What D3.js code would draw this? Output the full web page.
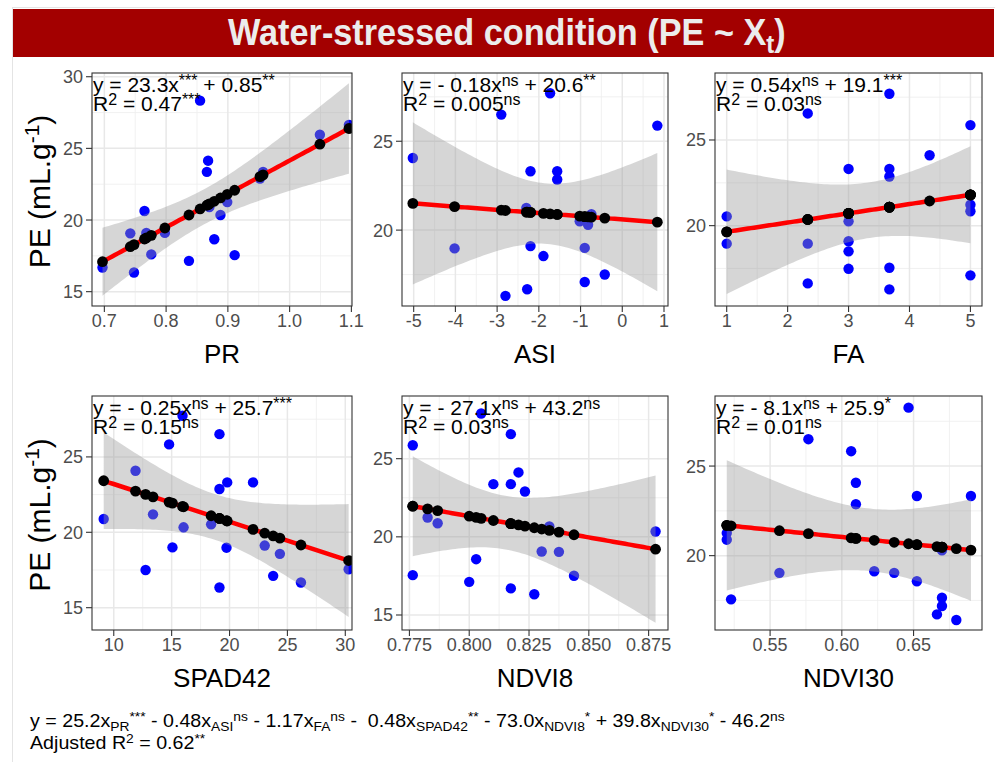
<!DOCTYPE html>
<html>
<head>
<meta charset="utf-8">
<script src="https://cdn.jsdelivr.net/npm/d3@7"></script>
<style>
  body { margin: 0; background: #fff; }
  svg { display: block; }
  text { font-family: "Liberation Sans", Arial, sans-serif; white-space: pre; }
</style>
</head>
<body>
<svg id="chart" width="995" height="762"></svg>
<script>
// values, one pair of arrays per panel
const xNames = ["PR", "ASI", "FA", "SPAD42", "NDVI8", "NDVI30"];

const prX  = [0.697, 0.742, 0.748, 0.765, 0.768, 0.776, 0.798, 0.837, 0.855, 0.866, 0.868, 0.870, 0.878, 0.888, 0.899, 0.911, 0.952, 0.957, 1.049, 1.096];
const prPE = [16.69, 19.07, 16.34, 20.63, 19.10, 17.60, 19.10, 17.15, 28.33, 23.36, 24.14, 20.90, 18.66, 20.35, 21.25, 17.55, 22.90, 23.35, 25.95, 26.64];

const asiX  = [-5.02, -4.02, -2.90, -2.80, -2.30, -2.28, -2.20, -2.20, -1.89, -1.73, -1.56, -1.56, -1.02, -0.90, -0.90, -0.82, -0.74, -0.42, 0.84];
const asiPE = [24.06, 18.97, 26.50, 16.30, 21.25, 16.67, 23.31, 19.10, 18.54, 27.70, 23.31, 22.85, 20.50, 19.00, 17.08, 20.30, 20.90, 17.50, 25.88];

const faX  = [1, 1, 2.33, 2.33, 2.33, 3, 3, 3, 3, 3, 3.67, 3.67, 3.67, 3.67, 3.67, 4.33, 5, 5, 5, 5];
const faPE = [20.54, 18.95, 26.55, 18.95, 16.63, 23.31, 20.25, 19.09, 18.50, 17.48, 27.70, 23.31, 22.87, 17.54, 16.28, 24.11, 25.87, 21.22, 20.84, 17.10];

const spadX  = [9.13, 11.88, 12.75, 13.39, 14.78, 15.07, 15.94, 16.03, 18.41, 19.13, 19.13, 19.13, 19.80, 19.74, 22.03, 23.04, 23.77, 24.35, 26.17, 30.29];
const spadPE = [20.88, 24.08, 17.50, 21.19, 25.83, 19.00, 27.73, 20.33, 20.53, 26.51, 22.87, 16.34, 23.31, 18.98, 23.31, 19.12, 17.11, 18.57, 16.67, 17.55];

const ndvi8X  = [0.7764, 0.7764, 0.7826, 0.7868, 0.8000, 0.8029, 0.8050, 0.8101, 0.8174, 0.8174, 0.8174, 0.8206, 0.8233, 0.8272, 0.8303, 0.8335, 0.8375, 0.8438, 0.8779];
const ndvi8PE = [25.86, 17.55, 21.24, 20.87, 17.12, 18.57, 27.89, 23.37, 26.57, 23.37, 16.70, 24.12, 22.90, 16.33, 19.06, 20.66, 19.04, 17.51, 20.34];

const ndvi30X  = [0.5198, 0.5198, 0.5228, 0.5565, 0.5767, 0.6065, 0.6098, 0.6098, 0.6226, 0.6365, 0.6465, 0.6523, 0.6523, 0.6663, 0.6698, 0.6698, 0.6698, 0.6798, 0.6900];
const ndvi30PE = [21.26, 20.89, 17.56, 19.04, 26.50, 25.83, 24.07, 22.87, 19.13, 19.04, 28.26, 23.33, 18.57, 16.72, 17.65, 17.19, 20.30, 16.41, 23.33];

const xValues  = [prX, asiX, faX, spadX, ndvi8X, ndvi30X];
const peValues = [prPE, asiPE, faPE, spadPE, ndvi8PE, ndvi30PE];

// fitted lines as drawn
const slopes     = [23.3, -0.18, 0.54, -0.25, -27.1, -8.1];
const intercepts = [0.85, 20.6, 19.1, 25.7, 43.0, 25.9];

// axis limits and ticks
const xLimits = [[0.680, 1.101], [-5.28, 1.096], [0.808, 5.19], [8.12, 30.58], [0.7719, 0.8831], [0.5116, 0.6977]];
const yLimits = [[14.0, 30.26], [15.73, 28.84], [15.31, 28.91], [13.52, 29.04], [14.04, 29.01], [15.85, 28.91]];
const xTicks = [[0.7, 0.8, 0.9, 1.0, 1.1], [-5, -4, -3, -2, -1, 0, 1], [1, 2, 3, 4, 5], [10, 15, 20, 25, 30], [0.775, 0.8, 0.825, 0.85, 0.875], [0.55, 0.6, 0.65]];
const xTickLabels = [["0.7", "0.8", "0.9", "1.0", "1.1"], ["-5", "-4", "-3", "-2", "-1", "0", "1"], ["1", "2", "3", "4", "5"], ["10", "15", "20", "25", "30"], ["0.775", "0.800", "0.825", "0.850", "0.875"], ["0.55", "0.60", "0.65"]];
const yTicks = [[15, 20, 25, 30], [20, 25], [20, 25], [15, 20, 25], [15, 20, 25], [20, 25]];

// labels: [text, sup, text, sup]
const eqLabels = [
  ["y = 23.3x", "***", " + 0.85", "**"],
  ["y = - 0.18x", "ns", " + 20.6", "**"],
  ["y = 0.54x", "ns", " + 19.1", "***"],
  ["y = - 0.25x", "ns", " + 25.7", "***"],
  ["y = - 27.1x", "ns", " + 43.2", "ns"],
  ["y = - 8.1x", "ns", " + 25.9", "*"]
];
const r2Labels = [["0.47", "***"], ["0.005", "ns"], ["0.03", "ns"], ["0.15", "ns"], ["0.03", "ns"], ["0.01", "ns"]];

const titleParts = [["n", "Water-stressed condition (PE ~ X"], ["sub", "t"], ["n", ")"]];
const modelParts = [
  ["n", "y = 25.2x"], ["sub", "PR"], ["sup", "***"],
  ["n", " - 0.48x"], ["sub", "ASI"], ["sup", "ns"],
  ["n", " - 1.17x"], ["sub", "FA"], ["sup", "ns"],
  ["n", " -  0.48x"], ["sub", "SPAD42"], ["sup", "**"],
  ["n", " - 73.0x"], ["sub", "NDVI8"], ["sup", "*"],
  ["n", " + 39.8x"], ["sub", "NDVI30"], ["sup", "*"],
  ["n", " - 46.2"], ["sup", "ns"]
];
const adjParts = [["n", "Adjusted R"], ["sup", "2"], ["n", " = 0.62"], ["sup", "**"]];

// layout
const cols = [[92, 352], [402, 668], [715, 982]];
const rows = [[73, 306], [396, 630]];

const svg = d3.select("#chart");

// writes parts into a text element, raising / lowering sup and sub
function richText(sel, parts, size, small, rise, drop) {
  let cur = 0;
  parts.forEach(([k, t]) => {
    const target = k === "sup" ? -rise : (k === "sub" ? drop : 0);
    sel.append("tspan")
      .attr("dy", target - cur)
      .attr("font-size", k === "n" ? size : small)
      .text(t);
    cur = target;
  });
}

// two sided 97.5% t quantile (Cornish-Fisher)
function tQuant(df) {
  const z = 1.959964;
  return z + (z ** 3 + z) / (4 * df) + (5 * z ** 5 + 16 * z ** 3 + 3 * z) / (96 * df * df);
}

// frame
svg.append("rect").attr("x", 12.5).attr("y", 7.5).attr("width", 990).attr("height", 760)
  .attr("fill", "none").attr("stroke", "#e4e4e4");

// title bar
svg.append("rect").attr("x", 13).attr("y", 9).attr("width", 981).attr("height", 48).attr("fill", "#a30000");
const titleG = svg.append("g");
const title = titleG.append("text").attr("x", 0).attr("y", 0).attr("fill", "#ececec").attr("font-weight", "bold");
richText(title, titleParts, 37, 26, 0, 8);
const tw = title.node().getComputedTextLength();
titleG.attr("transform", `translate(${507 - 558 / 2},45) scale(${558 / tw},1)`);

xNames.forEach((name, i) => {
  const [x0, x1] = cols[i % 3];
  const [y0, y1] = rows[Math.floor(i / 3)];
  const xs = xValues[i], ys = peValues[i];

  const x = d3.scaleLinear().domain(xLimits[i]).range([x0, x1]);
  const y = d3.scaleLinear().domain(yLimits[i]).range([y1, y0]);

  const g = svg.append("g");
  g.append("clipPath").attr("id", "clip" + i)
    .append("rect").attr("x", x0).attr("y", y0).attr("width", x1 - x0).attr("height", y1 - y0);

  // grid: minor lines halfway between major ticks
  const xt = xTicks[i], yt = yTicks[i];
  const xStep = xt[1] - xt[0];
  const yStep = yt.length > 1 ? yt[1] - yt[0] : 5;
  const xMinor = d3.range(xt[0] - xStep / 2, xLimits[i][1], xStep).filter(v => v > xLimits[i][0]);
  const yMinor = d3.range(yt[0] - yStep * 1.5, yLimits[i][1], yStep).filter(v => v > yLimits[i][0]);

  const grid = g.append("g");
  grid.selectAll(".xm").data(xMinor).join("line")
    .attr("x1", d => x(d)).attr("x2", d => x(d)).attr("y1", y0).attr("y2", y1)
    .attr("stroke", "#eeeeee").attr("stroke-width", 0.8);
  grid.selectAll(".ym").data(yMinor).join("line")
    .attr("y1", d => y(d)).attr("y2", d => y(d)).attr("x1", x0).attr("x2", x1)
    .attr("stroke", "#eeeeee").attr("stroke-width", 0.8);
  grid.selectAll(".xM").data(xt).join("line")
    .attr("x1", d => x(d)).attr("x2", d => x(d)).attr("y1", y0).attr("y2", y1)
    .attr("stroke", "#e8e8e8").attr("stroke-width", 1.5);
  grid.selectAll(".yM").data(yt).join("line")
    .attr("y1", d => y(d)).attr("y2", d => y(d)).attr("x1", x0).attr("x2", x1)
    .attr("stroke", "#e8e8e8").attr("stroke-width", 1.5);

  const plot = g.append("g").attr("clip-path", `url(#clip${i})`);
  const pts = xs.map((v, k) => ({ x: v, y: ys[k] }));

  // observed points
  plot.selectAll(".obs").data(pts).join("circle")
    .attr("cx", d => x(d.x)).attr("cy", d => y(d.y)).attr("r", 5.2).attr("fill", "#0000ff");

  // confidence band around the fitted line
  const b = slopes[i], a = intercepts[i];
  const n = xs.length;
  const mx = d3.mean(xs);
  const sxx = d3.sum(xs, v => (v - mx) ** 2);
  const s = Math.sqrt(d3.sum(pts, d => (d.y - (a + b * d.x)) ** 2) / (n - 2));
  const tq = tQuant(n - 2);
  const [lo, hi] = d3.extent(xs);
  const band = d3.range(81).map(k => {
    const xv = lo + (hi - lo) * k / 80;
    const fit = a + b * xv;
    const se = s * Math.sqrt(1 / n + (xv - mx) ** 2 / sxx);
    return { x: xv, lo: fit - tq * se, hi: fit + tq * se, fit };
  });
  plot.append("path").datum(band)
    .attr("d", d3.area().x(d => x(d.x)).y0(d => y(d.lo)).y1(d => y(d.hi)))
    .attr("fill", "#999999").attr("fill-opacity", 0.4);

  plot.append("path").datum(band)
    .attr("d", d3.line().x(d => x(d.x)).y(d => y(d.fit)))
    .attr("fill", "none").attr("stroke", "#ff0000").attr("stroke-width", 4.5);

  // fitted values
  plot.selectAll(".fit").data(xs).join("circle")
    .attr("cx", d => x(d)).attr("cy", d => y(a + b * d)).attr("r", 5.4).attr("fill", "#000");

  g.append("rect").attr("x", x0).attr("y", y0).attr("width", x1 - x0).attr("height", y1 - y0)
    .attr("fill", "none").attr("stroke", "#333333").attr("stroke-width", 1.1);

  // axes
  const ax = g.append("g");
  ax.selectAll(".xt").data(xt).join("line")
    .attr("x1", d => x(d)).attr("x2", d => x(d)).attr("y1", y1).attr("y2", y1 + 6)
    .attr("stroke", "#333333").attr("stroke-width", 1.1);
  ax.selectAll(".xl").data(xt).join("text")
    .attr("x", d => x(d)).attr("y", y1 + 21).attr("text-anchor", "middle")
    .attr("font-size", 18).attr("fill", "#4d4d4d")
    .text((d, k) => xTickLabels[i][k]);
  ax.selectAll(".yt").data(yt).join("line")
    .attr("y1", d => y(d)).attr("y2", d => y(d)).attr("x1", x0 - 6).attr("x2", x0)
    .attr("stroke", "#333333").attr("stroke-width", 1.1);
  ax.selectAll(".yl").data(yt).join("text")
    .attr("x", x0 - 9).attr("y", d => y(d) + 6.5).attr("text-anchor", "end")
    .attr("font-size", 18).attr("fill", "#4d4d4d")
    .text(d => d);

  g.append("text").attr("x", (x0 + x1) / 2).attr("y", y1 + 57).attr("text-anchor", "middle")
    .attr("font-size", 26).attr("fill", "#000").text(name);

  if (i % 3 === 0) {
    const yt2 = g.append("text")
      .attr("transform", `translate(50,${(y0 + y1) / 2 + 2}) rotate(-90)`)
      .attr("text-anchor", "middle").attr("fill", "#000");
    richText(yt2, [["n", "PE (mL.g"], ["sup", "-1"], ["n", ")"]], 30, 21, 11, 0);
  }

  // regression labels
  const e = eqLabels[i];
  const eq = g.append("text").attr("x", x0 + 1).attr("y", y0 + 19).attr("fill", "#000");
  richText(eq, [["n", e[0]], ["sup", e[1]], ["n", e[2]], ["sup", e[3]]], 21, 16, 6, 0);
  const r2 = g.append("text").attr("x", x0 + 1).attr("y", y0 + 38).attr("fill", "#000");
  richText(r2, [["n", "R"], ["sup", "2"], ["n", " = " + r2Labels[i][0]], ["sup", r2Labels[i][1]]], 21, 16, 6, 0);
});

// multiple regression line below the panels
const modelG = svg.append("g");
const m1 = modelG.append("text").attr("x", 0).attr("y", 0).attr("fill", "#000");
richText(m1, modelParts, 18.5, 13, 6, 4);
const m2 = modelG.append("text").attr("x", 0).attr("y", 22).attr("fill", "#000");
richText(m2, adjParts, 18.5, 13, 6, 4);
const mw = m1.node().getComputedTextLength();
modelG.attr("transform", `translate(30,727) scale(${755 / mw},1)`);
</script>
</body>
</html>
